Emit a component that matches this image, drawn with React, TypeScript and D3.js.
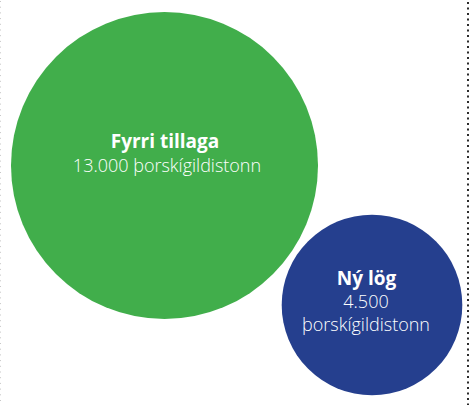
import React, { useEffect } from "react";
import * as d3 from "d3";

const categories = ["Fyrri tillaga", "Ný lög"];
const values = [13000, 4500];
const valueLabels = ["13.000", "4.500"];
const unitLabel = "þorskígildistonn";
const colors = ["#41AE4B", "#253F8E"];

const W = 475;
const H = 405;

export default function App() {
  useEffect(() => {
    document.body.style.margin = "0";
  }, []);

  const r = d3.scaleSqrt().domain([0, d3.max(values) as number]).range([0, 153.5]);
  const centers = [
    { x: 164.5, y: 165.5 },
    { x: 372, y: 305 },
  ];
  const font = "'Open Sans', sans-serif";

  return (
    <svg width={W} height={H} style={{ display: "block", position: "absolute", left: 0, top: 0 }}>
      <rect width={W} height={H} fill="#fff" />
      <line x1={0.5} x2={0.5} y1={1} y2={H} stroke="#c8c8c8" strokeWidth={1} strokeDasharray="1 4.7" />
      <line x1={468} x2={468} y1={2} y2={H} stroke="#2b2b2b" strokeWidth={2} strokeDasharray="2 3.5" />
      {values.map((v, i) => (
        <circle key={i} cx={centers[i].x} cy={centers[i].y} r={r(v)} fill={colors[i]} />
      ))}
      <g fontFamily={font} fill="#fff" textAnchor="middle">
        <text x={165} y={148} fontSize={19} fontWeight={700}>{categories[0]}</text>
        <text x={167} y={172} fontSize={18} fontWeight={300}>{valueLabels[0] + " " + unitLabel}</text>
        <text x={366.5} y={285} fontSize={19} fontWeight={700}>{categories[1]}</text>
        <text x={366} y={308} fontSize={18} fontWeight={300}>{valueLabels[1]}</text>
        <text x={366} y={331} fontSize={18} fontWeight={300}>{unitLabel}</text>
      </g>
    </svg>
  );
}
